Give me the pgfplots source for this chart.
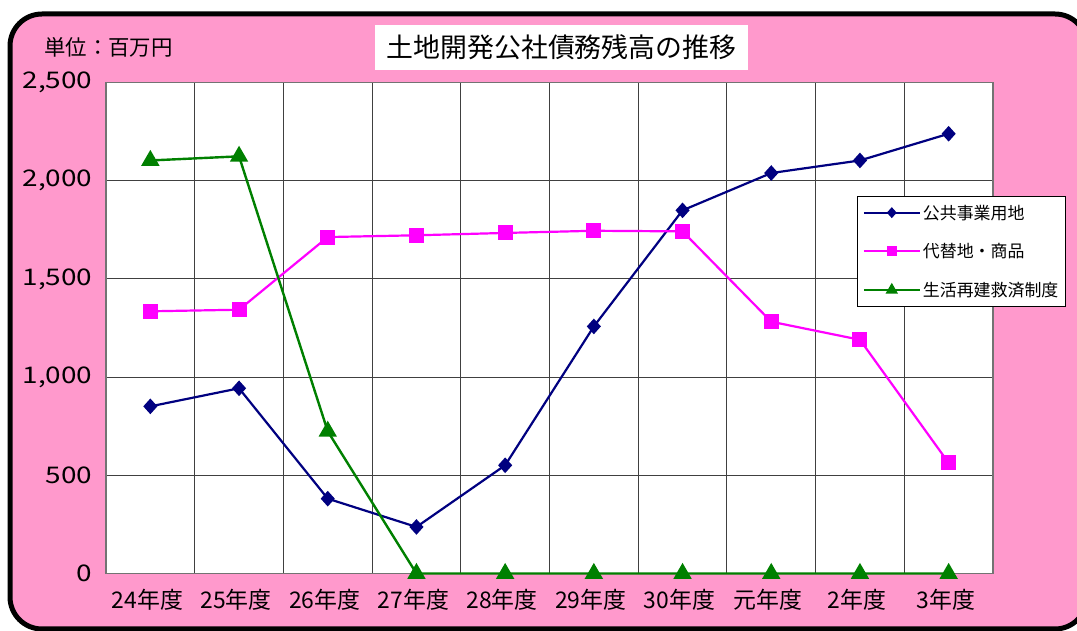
\documentclass[border=0pt]{standalone}
\usepackage{fontspec}
\usepackage{pgfplots}
\pgfplotsset{compat=1.18}
\setmainfont{Noto Sans CJK JP}
\newfontfamily\widenum[FakeStretch=1.22]{Noto Sans CJK JP}
\definecolor{bgpink}{HTML}{FF99CC}
\definecolor{navyc}{HTML}{000080}
\definecolor{magc}{HTML}{FF00FF}
\definecolor{grnc}{HTML}{008000}
\begin{document}
\begin{tikzpicture}
\useasboundingbox (0,0) rectangle (1077bp,631bp);
\clip (0,0) rectangle (1077bp,631bp);
\fill[white] (0,0) rectangle (1077bp,631bp);
\draw[line width=5bp, rounded corners=32bp, fill=bgpink] (10bp,617bp) rectangle (1087bp,2bp);
\node[fill=white, minimum width=373bp, minimum height=45bp, inner sep=0pt,
      font=\fontsize{27}{30}\selectfont] at (561.5bp,583.5bp) {土地開発公社債務残高の推移};
\node[anchor=west, inner sep=0pt, font=\fontsize{21.5}{24}\selectfont] at (44bp,584bp) {単位：百万円};
\begin{axis}[
  at={(106bp,57.5bp)}, anchor=south west, scale only axis,
  width=887bp, height=491bp,
  xmin=-0.5, xmax=9.5, ymin=0, ymax=2500,
  xtick={0,...,9},
  xticklabels={24年度,25年度,26年度,27年度,28年度,29年度,30年度,元年度,2年度,3年度},
  minor xtick={0.5,1.5,...,8.5},
  xminorgrids=true, xmajorgrids=false, ymajorgrids=true,
  ytick={0,500,...,2500},
  major tick length=0pt, minor tick length=0pt,
  axis background/.style={fill=white},
  axis line style={draw=black!55, line width=1.6bp},
  grid style={draw=black!75, line width=0.9bp},
  minor grid style={draw=black!75, line width=0.9bp},
  tick label style={font=\fontsize{23}{26}\selectfont},
  yticklabel style={font=\fontsize{23}{26}\selectfont\widenum, anchor=east, xshift=-10bp},
  /pgf/number format/assume math mode=true,
  /pgf/number format/1000 sep={,},
  scaled y ticks=false,
  xticklabel style={yshift=-12bp, xshift=-3bp},
  clip=false,
  legend style={at={(0.847,0.768)}, anchor=north west, draw=black, line width=0.8bp,
    fill=white, font=\fontsize{17}{20}\selectfont, row sep=19bp,
    inner xsep=5bp, inner ysep=6bp, cells={anchor=west}},
  legend image code/.code={%
    \draw[#1, line width=2.2bp, mark repeat=2, mark phase=2, every mark/.append style={scale=0.62}]
      plot coordinates {(0bp,0bp) (28bp,0bp) (56bp,0bp)};},
]
\addplot[color=navyc, line width=2.2bp, mark=diamond*, mark size=6.2bp, mark options={xscale=1.2}]
  coordinates {(0,851) (1,943) (2,381) (3,237) (4,551) (5,1258) (6,1849) (7,2039) (8,2103) (9,2239)};
\addlegendentry{公共事業用地}
\addplot[color=magc, line width=2.2bp, mark=square*, mark size=6.4bp]
  coordinates {(0,1335) (1,1343) (2,1713) (3,1722) (4,1734) (5,1745) (6,1742) (7,1282) (8,1190) (9,563)};
\addlegendentry{代替地・商品}
\addplot[color=grnc, line width=2.4bp, mark=triangle*, mark size=8.2bp]
  coordinates {(0,2103) (1,2124) (2,724) (3,0) (4,0) (5,0) (6,0) (7,0) (8,0) (9,0)};
\addlegendentry{生活再建救済制度}
\end{axis}
\end{tikzpicture}
\end{document}
